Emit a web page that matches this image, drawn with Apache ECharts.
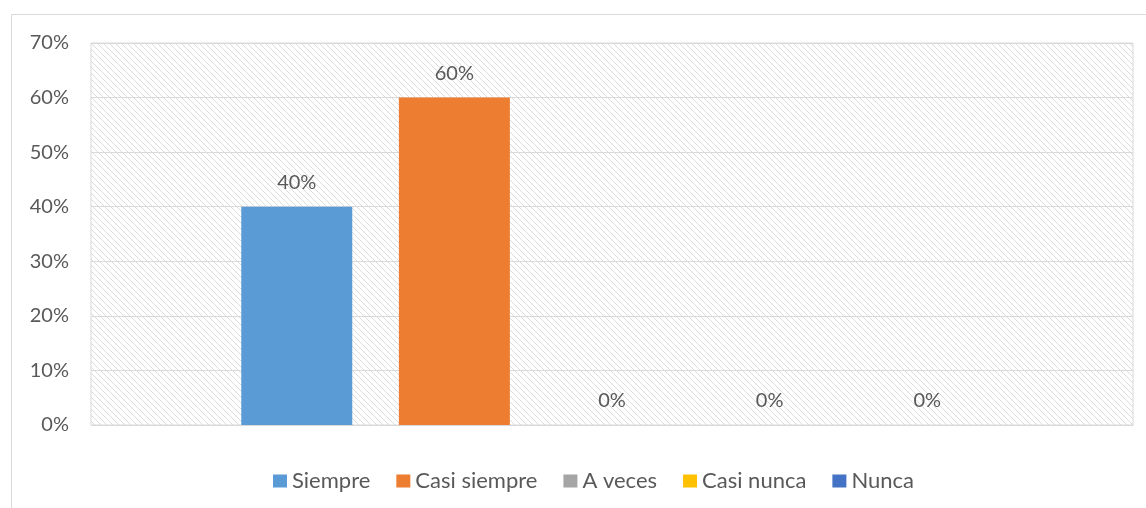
<!DOCTYPE html>
<html>
<head>
<meta charset="utf-8">
<script src="https://cdn.jsdelivr.net/npm/echarts@6/dist/echarts.min.js"></script>
<style>
html,body{margin:0;padding:0;background:#fff;}
#chart{width:1146px;height:508px;}
</style>
</head>
<body>
<div id="chart"></div>
<script>
const categories = [''];
const seriesNames = ['Siempre', 'Casi siempre', 'A veces', 'Casi nunca', 'Nunca'];
const seriesValues = [0.40, 0.60, 0, 0, 0];
const seriesColors = ['#5b9bd5', '#ed7d31', '#a5a5a5', '#ffc000', '#4472c4'];
const yTicks = [0, 0.1, 0.2, 0.3, 0.4, 0.5, 0.6, 0.7];

const FONT = 'Lato';
const TEXT = '#595959';

// hatch pattern for plot area
const pc = document.createElement('canvas');
pc.width = 6; pc.height = 6;
const pctx = pc.getContext('2d');
pctx.fillStyle = '#ffffff';
pctx.fillRect(0, 0, 6, 6);
pctx.fillStyle = '#dcdcdc';
for (let i = 0; i < 6; i++) { pctx.fillRect(i, i, 1, 1); }

const chart = echarts.init(document.getElementById('chart'), null, {renderer: 'canvas'});
const pct = v => Math.round(v * 100) + '%';

const series = seriesNames.map((name, i) => ({
  name: name,
  type: 'bar',
  data: [seriesValues[i]],
  barWidth: 111,
  barGap: '42%',
  itemStyle: {color: seriesColors[i]},
  label: {
    show: true,
    position: 'top',
    distance: 14,
    formatter: p => pct(p.value),
    color: TEXT,
    fontFamily: FONT,
    fontSize: 20
  }
}));

chart.setOption({
  animation: false,
  backgroundColor: '#ffffff',
  textStyle: {fontFamily: FONT},
  graphic: [{
    type: 'rect',
    shape: {x: 11.5, y: 14.5, width: 1200, height: 600},
    style: {fill: 'none', stroke: '#d9d9d9', lineWidth: 1},
    silent: true,
    z: -10
  }],
  grid: {
    left: 91, top: 43, right: 13, bottom: 83,
    show: true,
    backgroundColor: {image: pc, repeat: 'repeat'},
    borderColor: '#d9d9d9',
    borderWidth: 1,
    containLabel: false
  },
  legend: {
    data: seriesNames,
    left: 268,
    top: 465,
    itemWidth: 14,
    itemHeight: 13,
    itemGap: 26,
    icon: 'rect',
    textStyle: {color: TEXT, fontFamily: FONT, fontSize: 22}
  },
  xAxis: {
    type: 'category',
    data: categories,
    axisLine: {show: true, lineStyle: {color: '#d9d9d9'}},
    axisTick: {show: false},
    axisLabel: {show: false}
  },
  yAxis: {
    type: 'value',
    min: yTicks[0],
    max: yTicks[yTicks.length - 1],
    interval: 0.1,
    axisLine: {show: false},
    axisTick: {show: false},
    splitLine: {show: true, lineStyle: {color: '#d9d9d9', width: 1}},
    axisLabel: {
      formatter: v => pct(v),
      color: TEXT,
      fontFamily: FONT,
      fontSize: 20,
      margin: 22
    }
  },
  series: series
});
</script>
</body>
</html>
